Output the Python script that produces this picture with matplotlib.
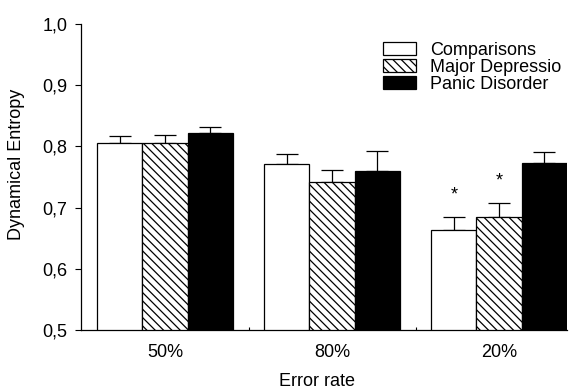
import matplotlib
matplotlib.use("Agg")
import matplotlib.pyplot as plt
import matplotlib.ticker as mtick
import numpy as np

# values
groups = ["50%", "80%", "20%"]
series = ["Comparisons", "Major Depressio", "Panic Disorder"]
means = {
    "Comparisons":     [0.806, 0.772, 0.663],
    "Major Depressio": [0.806, 0.741, 0.685],
    "Panic Disorder":  [0.822, 0.759, 0.773],
}
errors = {
    "Comparisons":     [0.011, 0.016, 0.022],
    "Major Depressio": [0.013, 0.021, 0.023],
    "Panic Disorder":  [0.010, 0.033, 0.018],
}
# significance marks: (series, group index)
stars = [("Comparisons", 2), ("Major Depressio", 2)]

plt.rcParams["font.family"] = ["Liberation Sans", "DejaVu Sans"]
plt.rcParams["hatch.linewidth"] = 0.9

styles = {
    "Comparisons":     dict(color="white", hatch=None),
    "Major Depressio": dict(color="white", hatch="\\\\\\\\"),
    "Panic Disorder":  dict(color="black", hatch=None),
}

fs = 13
fig = plt.figure(figsize=(5.73, 3.92), dpi=100)
ax = fig.add_axes([0.1414, 0.1582, 0.8481, 0.7806])

x = np.arange(len(groups))
width = 0.27
for i, name in enumerate(series):
    pos = x + (i - 1) * width
    st = styles[name]
    ax.bar(pos, means[name], width, bottom=0, color=st["color"], hatch=st["hatch"],
           edgecolor="black", linewidth=0.9, label=name, zorder=2)
    ax.errorbar(pos, means[name], yerr=[np.zeros(len(groups)), errors[name]],
                fmt="none", ecolor="black", elinewidth=0.9, capsize=8, capthick=0.9, zorder=1)

for name, gi in stars:
    i = series.index(name)
    top = means[name][gi] + errors[name][gi]
    ax.text(x[gi] + (i - 1) * width, top + 0.036, "*", ha="center", va="center", fontsize=fs)

ax.set_ylim(0.5, 1.0)
ax.set_xlim(-0.503, 2.407)
ax.set_yticks(np.arange(0.5, 1.01, 0.1))
ax.yaxis.set_major_formatter(mtick.FuncFormatter(lambda v, _: f"{v:.1f}".replace(".", ",")))
ax.set_xticks(x)
ax.set_xticklabels(groups)
ax.set_xticks([0.5, 1.5], minor=True)
ax.tick_params(axis="x", which="major", length=0, pad=10, labelsize=fs)
ax.tick_params(axis="x", which="minor", direction="in", length=2, width=0.8)
ax.tick_params(axis="y", length=4, width=0.8, pad=6, labelsize=fs)

for s in ["top", "right"]:
    ax.spines[s].set_visible(False)
for s in ["left", "bottom"]:
    ax.spines[s].set_linewidth(0.9)

ax.set_ylabel("Dynamical Entropy", fontsize=fs)
ax.yaxis.set_label_coords(-0.115, 0.541)
ax.set_xlabel("Error rate", fontsize=fs)
ax.xaxis.set_label_coords(0.485, -0.14)

ax.legend(loc="upper left", bbox_to_anchor=(0.621, 0.941), frameon=False, fontsize=fs,
          handlelength=1.83, handleheight=0.72, labelspacing=0.0, handletextpad=0.78,
          borderaxespad=0, borderpad=0)

fig.savefig("out.png", dpi=100)
